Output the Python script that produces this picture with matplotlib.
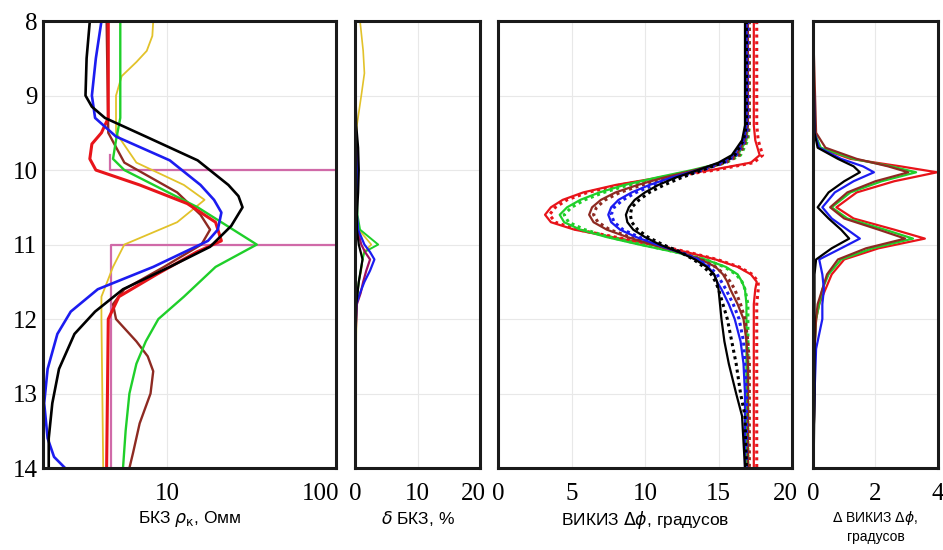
#!/usr/bin/env python3
"""Well-log comparison: BKZ apparent resistivity and VIKIZ phase differences vs depth."""

import matplotlib
matplotlib.use("Agg")
import matplotlib.pyplot as plt

# ---- panel 1: BKZ apparent resistivity (Ohm m), log axis ----
model_rho = [4.6, 4.6, 400, 400, 4.7, 4.7]
model_depth = [9.8, 10.0, 10.0, 11.0, 11.0, 14.0]

bkz_black_d = [8.0, 8.5, 9.0, 9.15, 9.3, 9.55, 9.87, 10.2, 10.35, 10.5, 10.75, 11.03, 11.3, 11.6, 11.9, 12.2, 12.67, 13.13, 13.6, 14.0]
bkz_black = [3.5, 3.35, 3.3, 3.6, 4.3, 7.5, 15.2, 23.1, 26.5, 28.0, 24.0, 18.0, 10.4, 5.5, 3.76, 2.84, 2.3, 2.1, 2.0, 2.0]
bkz_blue_d = [8.0, 8.5, 9.0, 9.3, 9.55, 9.87, 10.2, 10.4, 10.57, 10.8, 10.95, 11.3, 11.6, 11.9, 12.2, 12.67, 13.13, 13.6, 13.85, 14.0]
bkz_blue = [4.1, 3.8, 3.6, 3.76, 5.0, 10.4, 15.8, 19.0, 21.0, 20.0, 17.5, 8.3, 3.9, 2.7, 2.25, 1.97, 1.88, 1.97, 2.15, 2.5]
bkz_red_d = [8.0, 9.3, 9.5, 9.65, 9.85, 10.0, 10.2, 10.45, 10.7, 10.95, 11.1, 11.4, 11.7, 12.0, 14.0]
bkz_red = [4.5, 4.5, 4.1, 3.6, 3.5, 3.8, 6.9, 13.2, 19.4, 21.0, 15.0, 8.7, 5.2, 4.5, 4.4]
bkz_green_d = [8.0, 9.3, 9.6, 9.85, 10.0, 10.5, 11.0, 11.3, 11.7, 12.0, 12.3, 12.6, 13.0, 13.5, 14.0]
bkz_green = [5.3, 5.3, 5.0, 4.8, 5.6, 15.2, 34.0, 19.4, 12.6, 8.9, 7.5, 6.6, 6.0, 5.7, 5.5]
bkz_brown_d = [8.0, 9.5, 9.9, 10.3, 10.6, 10.8, 11.0, 11.3, 11.6, 11.8, 12.0, 12.3, 12.5, 12.7, 13.0, 13.4, 13.8, 14.0]
bkz_brown = [4.4, 4.5, 5.6, 11.5, 15.8, 18.0, 16.0, 9.6, 5.6, 4.8, 5.0, 6.6, 7.7, 8.3, 8.0, 6.9, 6.3, 6.0]
bkz_yellow_d = [8.0, 8.2, 8.4, 8.55, 8.74, 9.0, 9.5, 9.9, 10.2, 10.4, 10.7, 11.0, 11.3, 11.7, 12.0, 14.0]
bkz_yellow = [8.3, 8.2, 7.6, 6.6, 5.4, 5.0, 5.0, 6.6, 12.6, 16.7, 11.5, 5.6, 4.8, 4.1, 4.1, 4.2]

# ---- panel 2: BKZ relative difference (%) ----
dbkz_depth = [8.0, 8.4, 8.7, 9.0, 9.4, 9.7, 10.0, 10.3, 10.6, 10.8, 11.0, 11.1, 11.2, 11.35, 11.5, 11.65, 11.8, 12.2, 13.0, 14.0]
dbkz_yellow = [0.8, 1.3, 1.5, 1.0, 0.3, 0.2, 0.2, 0.2, 0.3, 0.6, 2.6, 1.4, 1.2, 1.0, 0.6, 0.4, 0.3, 0.2, 0.1, 0.1]
dbkz_green = [0.1, 0.1, 0.1, 0.1, 0.1, 0.2, 0.3, 0.3, 0.4, 0.8, 3.7, 1.5, 1.2, 0.9, 0.6, 0.4, 0.2, 0.1, 0.1, 0.1]
dbkz_blue = [0.1, 0.1, 0.1, 0.1, 0.1, 0.2, 0.3, 0.3, 0.3, 0.5, 1.5, 2.4, 3.1, 2.4, 1.5, 0.8, 0.2, 0.1, 0.1, 0.1]
dbkz_brown = [0.1, 0.1, 0.1, 0.1, 0.1, 0.3, 0.4, 0.3, 0.3, 0.4, 1.0, 1.6, 2.4, 1.8, 1.3, 0.9, 0.3, 0.1, 0.1, 0.1]
dbkz_black = [0.1, 0.1, 0.1, 0.1, 0.2, 0.5, 0.6, 0.5, 0.3, 0.3, 0.6, 0.9, 1.2, 0.9, 0.6, 0.4, 0.2, 0.1, 0.1, 0.1]

# ---- panel 3: VIKIZ phase difference (degrees) ----
vik_depth = [8.0, 9.4, 9.6, 9.8, 9.9, 10.0, 10.1, 10.2, 10.3, 10.4, 10.5, 10.6, 10.7, 10.8, 10.9,
             11.0, 11.1, 11.2, 11.3, 11.4, 11.5, 11.6, 11.8, 12.0, 12.3, 12.6, 13.0, 13.3, 14.0]
vik_black = [16.8, 16.8, 16.6, 15.9, 15.0, 13.6, 12.1, 10.9, 10.0, 9.3, 8.9, 8.7, 8.8, 9.2, 10.0,
             11.0, 12.3, 13.4, 14.2, 14.7, 14.9, 15.0, 15.1, 15.2, 15.4, 15.7, 16.2, 16.6, 16.8]
vik_blue = [16.9, 16.9, 16.7, 16.0, 15.2, 13.6, 11.8, 10.3, 9.1, 8.2, 7.7, 7.5, 7.7, 8.3, 9.4,
            10.8, 12.3, 13.6, 14.3, 14.7, 14.9, 15.2, 15.7, 16.1, 16.5, 16.7, 16.8, 16.8, 16.8]
vik_brown = [17.0, 17.0, 16.8, 16.2, 15.3, 13.4, 11.3, 9.5, 8.0, 7.0, 6.4, 6.2, 6.5, 7.4, 8.8,
             10.5, 12.3, 13.8, 14.8, 15.3, 15.6, 15.8, 16.3, 16.7, 16.9, 17.0, 17.0, 17.0, 17.0]
vik_green = [17.0, 17.0, 16.9, 16.3, 15.3, 13.2, 10.8, 8.6, 6.9, 5.6, 4.7, 4.2, 4.5, 5.6, 7.4,
             9.6, 12.0, 14.1, 15.5, 16.3, 16.6, 16.8, 16.9, 16.9, 16.9, 16.9, 16.9, 16.9, 16.9]
vik_red = [17.4, 17.4, 17.5, 17.8, 17.2, 14.5, 11.0, 8.0, 5.8, 4.4, 3.6, 3.2, 3.6, 5.2, 7.8,
           10.4, 12.8, 14.8, 16.3, 17.2, 17.6, 17.5, 17.4, 17.4, 17.4, 17.4, 17.4, 17.4, 17.4]
# dotted companions (second model)
vik_black_dot = [16.9, 16.9, 16.7, 16.1, 15.3, 13.9, 12.5, 11.3, 10.3, 9.6, 9.1, 9.0, 9.1, 9.5, 10.2,
                 11.2, 12.4, 13.3, 14.0, 14.5, 14.8, 15.0, 15.3, 15.6, 15.9, 16.2, 16.5, 16.8, 16.9]
vik_blue_dot = [17.0, 17.0, 16.8, 16.2, 15.4, 13.9, 12.1, 10.6, 9.4, 8.5, 7.9, 7.7, 7.9, 8.5, 9.6,
                11.0, 12.4, 13.6, 14.4, 14.9, 15.2, 15.5, 16.0, 16.4, 16.7, 16.8, 16.9, 16.9, 16.9]
vik_brown_dot = [17.1, 17.1, 16.9, 16.4, 15.5, 13.7, 11.6, 9.8, 8.3, 7.3, 6.7, 6.5, 6.8, 7.6, 9.0,
                 10.7, 12.4, 13.8, 14.8, 15.4, 15.8, 16.1, 16.5, 16.8, 17.0, 17.1, 17.1, 17.1, 17.1]
vik_green_dot = [17.1, 17.1, 17.0, 16.5, 15.5, 13.5, 11.1, 8.9, 7.2, 5.9, 5.0, 4.5, 4.8, 5.9, 7.6,
                 9.8, 12.1, 14.1, 15.4, 16.2, 16.6, 16.8, 17.0, 17.0, 17.0, 17.0, 17.0, 17.0, 17.0]
vik_red_dot = [17.6, 17.6, 17.7, 18.0, 17.4, 14.8, 11.3, 8.3, 6.1, 4.7, 3.9, 3.5, 3.9, 5.4, 8.0,
               10.6, 12.9, 14.9, 16.4, 17.3, 17.7, 17.7, 17.6, 17.6, 17.6, 17.6, 17.6, 17.6, 17.6]

# ---- panel 4: VIKIZ phase difference discrepancy (degrees) ----
dvik_depth = [8.0, 9.5, 9.7, 9.85, 9.95, 10.03, 10.15, 10.3, 10.5, 10.65, 10.8, 10.92,
              11.05, 11.2, 11.4, 11.6, 11.8, 12.0, 12.4, 13.0, 14.0]
dvik_red = [0.0, 0.05, 0.2, 1.2, 2.8, 3.97, 2.6, 1.4, 0.75, 1.3, 2.6, 3.58, 2.1, 1.0, 0.6, 0.4, 0.2, 0.1, 0.05, 0.05, 0.0]
dvik_green = [0.0, 0.05, 0.25, 1.3, 2.5, 3.3, 2.2, 1.2, 0.6, 1.1, 2.3, 3.2, 1.9, 0.9, 0.5, 0.3, 0.2, 0.1, 0.05, 0.05, 0.0]
dvik_brown = [0.0, 0.1, 0.4, 1.4, 2.4, 3.05, 2.0, 1.1, 0.55, 1.0, 2.1, 2.95, 1.7, 0.8, 0.45, 0.3, 0.15, 0.1, 0.05, 0.05, 0.0]
dvik_blue = [0.0, 0.05, 0.2, 0.9, 1.6, 1.95, 1.3, 0.7, 0.3, 0.6, 1.1, 1.5, 0.9, 0.2, 0.3, 0.35, 0.3, 0.3, 0.1, 0.05, 0.0]
dvik_black = [0.0, 0.05, 0.15, 0.8, 1.3, 1.5, 1.0, 0.5, 0.15, 0.5, 0.9, 1.16, 0.6, 0.1, 0.05, 0.05, 0.05, 0.05, 0.05, 0.05, 0.02]

C_RED = "#e8141a"
C_GREEN = "#1fcf2a"
C_BLUE = "#1c1cf0"
C_BLACK = "#000000"
C_BROWN = "#8e2a22"
C_YELLOW = "#e2c22a"
C_PINK = "#d06aa8"

TICK_FONT = {"family": "Liberation Serif", "size": 18}
LABEL_FONT = {"family": "Liberation Sans", "size": 12.5}
TICK_PAD = 11


def style_axis(ax, xlim, xticks, xticklabels, show_y, last_shift=0.0):
    ax.set_ylim(14, 8)
    ax.set_xlim(*xlim)
    ax.set_xticks(xticks)
    shown = list(xticklabels)
    if last_shift:
        # the right-most label is set a little to the left so it clears the next panel
        shown[-1] = ""
        ax.annotate(xticklabels[-1], xy=(xticks[-1], 0), xycoords=ax.get_xaxis_transform(),
                    xytext=(-last_shift, -TICK_PAD), textcoords="offset points",
                    ha="center", va="top", annotation_clip=False, **TICK_FONT)
    ax.set_xticklabels(shown, fontdict=TICK_FONT)
    ax.set_yticks(range(8, 15))
    if show_y:
        ax.set_yticklabels([str(v) for v in range(8, 15)], fontdict=TICK_FONT)
    else:
        ax.set_yticklabels([])
    ax.tick_params(axis="x", length=0, pad=TICK_PAD)
    ax.tick_params(axis="y", length=0, pad=4)
    ax.grid(True, color="#e8e8e8", lw=0.8)
    ax.set_axisbelow(True)
    for sp in ax.spines.values():
        sp.set_linewidth(2.2)
        sp.set_color("#1a1a1a")


fig = plt.figure(figsize=(9.43, 5.5), dpi=100)
bottom, height = 0.149, 0.8127
ax1 = fig.add_axes([0.0456, bottom, 0.3107, height])
ax2 = fig.add_axes([0.3765, bottom, 0.1326, height])
ax3 = fig.add_axes([0.5281, bottom, 0.3118, height])
ax4 = fig.add_axes([0.8621, bottom, 0.1326, height])

# panel 1
ax1.set_xscale("log")
lw = 1.7
ax1.plot(model_rho, model_depth, color=C_PINK, lw=1.6)
ax1.plot(bkz_yellow, bkz_yellow_d, color=C_YELLOW, lw=1.3)
ax1.plot(bkz_brown, bkz_brown_d, color=C_BROWN, lw=lw)
ax1.plot(bkz_green, bkz_green_d, color=C_GREEN, lw=lw)
ax1.plot(bkz_red, bkz_red_d, color=C_RED, lw=lw + 0.5)
ax1.plot(bkz_blue, bkz_blue_d, color=C_BLUE, lw=lw + 0.2)
ax1.plot(bkz_black, bkz_black_d, color=C_BLACK, lw=lw + 0.2)
ax1.xaxis.set_minor_locator(matplotlib.ticker.NullLocator())
style_axis(ax1, (1.85, 100), [10, 100], ["10", "100"], True, last_shift=11)
ax1.set_xlabel("БКЗ $\\rho_{\\mathrm{к}}$, Омм", fontdict=LABEL_FONT, labelpad=3)

# panel 2
ax2.plot(dbkz_yellow, dbkz_depth, color=C_YELLOW, lw=1.2)
ax2.plot(dbkz_green, dbkz_depth, color=C_GREEN, lw=1.4)
ax2.plot(dbkz_brown, dbkz_depth, color="#a0105a", lw=1.6)
ax2.plot(dbkz_blue, dbkz_depth, color=C_BLUE, lw=1.6)
ax2.plot(dbkz_black, dbkz_depth, color=C_BLACK, lw=1.6)
style_axis(ax2, (0, 20), [0, 10, 20], ["0", "10", "20"], False, last_shift=5)
ax2.set_xlabel("$\\delta$ БКЗ, %", fontdict=LABEL_FONT, labelpad=3)

# panel 3
for vals, dots, col in [(vik_red, vik_red_dot, C_RED), (vik_green, vik_green_dot, C_GREEN),
                        (vik_brown, vik_brown_dot, C_BROWN), (vik_blue, vik_blue_dot, C_BLUE),
                        (vik_black, vik_black_dot, C_BLACK)]:
    ax3.plot(vals, vik_depth, color=col, lw=1.6)
    ax3.plot(dots, vik_depth, color=col, lw=2.2, ls=(0, (1, 1.2)))
style_axis(ax3, (0, 20), [0, 5, 10, 15, 20], ["0", "5", "10", "15", "20"], False, last_shift=5)
ax3.set_xlabel("ВИКИЗ $\\Delta\\phi$, градусов", fontdict=LABEL_FONT, labelpad=3)

# panel 4
for vals, col in [(dvik_red, C_RED), (dvik_green, C_GREEN), (dvik_brown, C_BROWN),
                  (dvik_blue, C_BLUE), (dvik_black, C_BLACK)]:
    ax4.plot(vals, dvik_depth, color=col, lw=1.6)
style_axis(ax4, (0, 4), [0, 2, 4], ["0", "2", "4"], False)
ax4.set_xlabel("$\\Delta$ ВИКИЗ $\\Delta\\phi$,\nградусов",
               fontdict={"family": "Liberation Sans", "size": 10}, labelpad=3, linespacing=1.25)

fig.savefig("out.png", dpi=100)
